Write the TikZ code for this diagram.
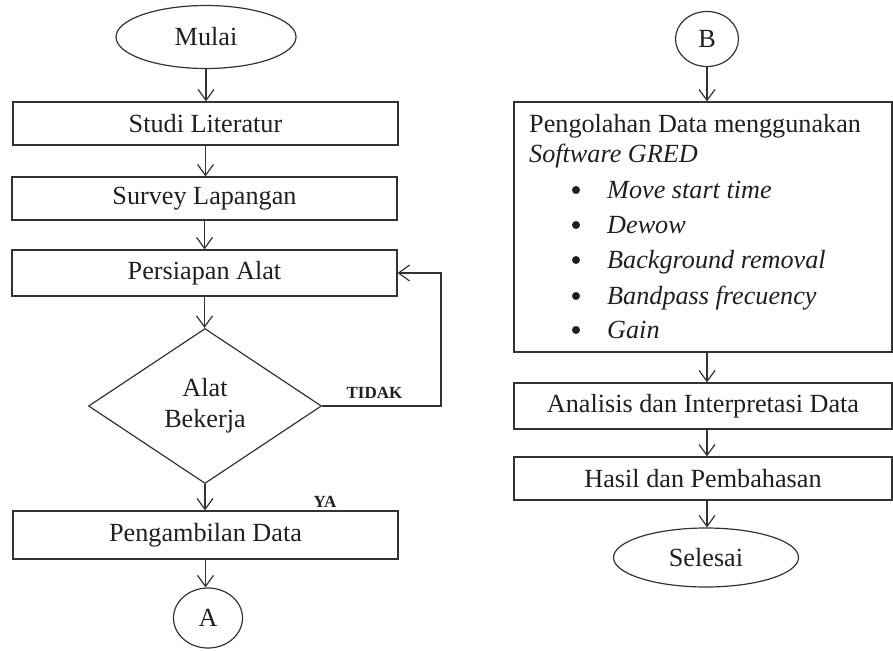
\documentclass[tikz,border=0pt]{standalone}
\usepackage{fontspec}
\setmainfont{Liberation Serif}
\usetikzlibrary{shapes.geometric,arrows.meta}
\begin{document}
\begin{tikzpicture}[x=1pt,y=-1pt,
  every node/.style={font=\fontsize{26.2}{31}\selectfont, text=black!88},
  box/.style={draw=black!80, line width=1.2pt, inner sep=0pt, rectangle},
  oval/.style={draw=black!80, line width=1.2pt, inner sep=0pt, ellipse},
  dec/.style={draw=black!80, line width=1.2pt, inner sep=0pt, diamond, align=center},
  lbl/.style={font=\fontsize{17}{20}\selectfont\bfseries, inner sep=0pt},
  txt/.style={anchor=base west, inner sep=0pt},
  itm/.style={anchor=base west, inner sep=0pt, font=\fontsize{26.2}{31}\selectfont\itshape},
  arr/.style={draw=black!80, line width=1.2pt, -{Straight Barb[length=11pt,width=16pt,line width=1.2pt]}},
]
\useasboundingbox (0,0) rectangle (893,650);

% left column
\node[oval, minimum width=180pt, minimum height=63pt] (mulai) at (206,37) {Mulai};
\node[box, minimum width=385pt, minimum height=43pt] (studi) at (205.5,123.5) {Studi Literatur};
\node[box, minimum width=385pt, minimum height=43pt] (survey) at (204.5,198.5) {Survey Lapangan};
\node[box, minimum width=385pt, minimum height=46pt] (persiapan) at (204.5,273) {Persiapan Alat};
\node[dec, minimum width=233pt, minimum height=155pt] (alat) at (205,406) {Alat\\Bekerja};
\node[box, minimum width=385pt, minimum height=48pt] (ambil) at (205.5,535) {Pengambilan Data};
\node[oval, minimum width=69pt, minimum height=60pt] (A) at (208,618) {A};

\node[lbl] (tidak) at (374.5,393) {TIDAK};
\node[lbl] (ya) at (325,502) {YA};
\coordinate (c1) at (441,406);
\coordinate (c2) at (441,273);

\draw[arr] (mulai.south) -- (mulai.south |- studi.north);
\draw[arr] (studi.south) -- (studi.south |- survey.north);
\draw[arr] (survey.south) -- (survey.south |- persiapan.north);
\draw[arr] (persiapan.south) -- (persiapan.south |- alat.north);
\draw[arr] (alat.east) -- (c1) -- (c2) -- (persiapan.east);
\draw[arr] (alat.south) -- (alat.south |- ambil.north);
\draw[arr] (ambil.south) -- (ambil.south |- A.north);

% right column
\node[oval, minimum width=63pt, minimum height=55pt] (B) at (707,39) {B};
\node[box, minimum width=378pt, minimum height=250pt] (olah) at (703,227) {};
\node[txt] (t1) at (529,132) {Pengolahan Data menggunakan};
\node[txt] (t2) at (529,162) {\itshape Software GRED};
\node[itm] (i1) at (607,198) {Move start time};
\node[itm] (i2) at (607,233) {Dewow};
\node[itm] (i3) at (607,268) {Background removal};
\node[itm] (i4) at (607,304) {Bandpass frecuency};
\node[itm] (i5) at (607,338) {Gain};
\foreach \yy in {198,233,268,304,338} {
  \fill[black!88] (576,\yy-8) circle (4pt);
}
\node[box, minimum width=378pt, minimum height=46pt] (analisis) at (703,406) {Analisis dan Interpretasi Data};
\node[box, minimum width=378pt, minimum height=43pt] (hasil) at (703,478.5) {Hasil dan Pembahasan};
\node[oval, minimum width=185pt, minimum height=59pt] (selesai) at (706,557.5) {Selesai};

\draw[arr] (B.south) -- (B.south |- olah.north);
\draw[arr] (B.south |- olah.south) -- (B.south |- analisis.north);
\draw[arr] (B.south |- analisis.south) -- (B.south |- hasil.north);
\draw[arr] (B.south |- hasil.south) -- (B.south |- selesai.north);
\end{tikzpicture}
\end{document}
